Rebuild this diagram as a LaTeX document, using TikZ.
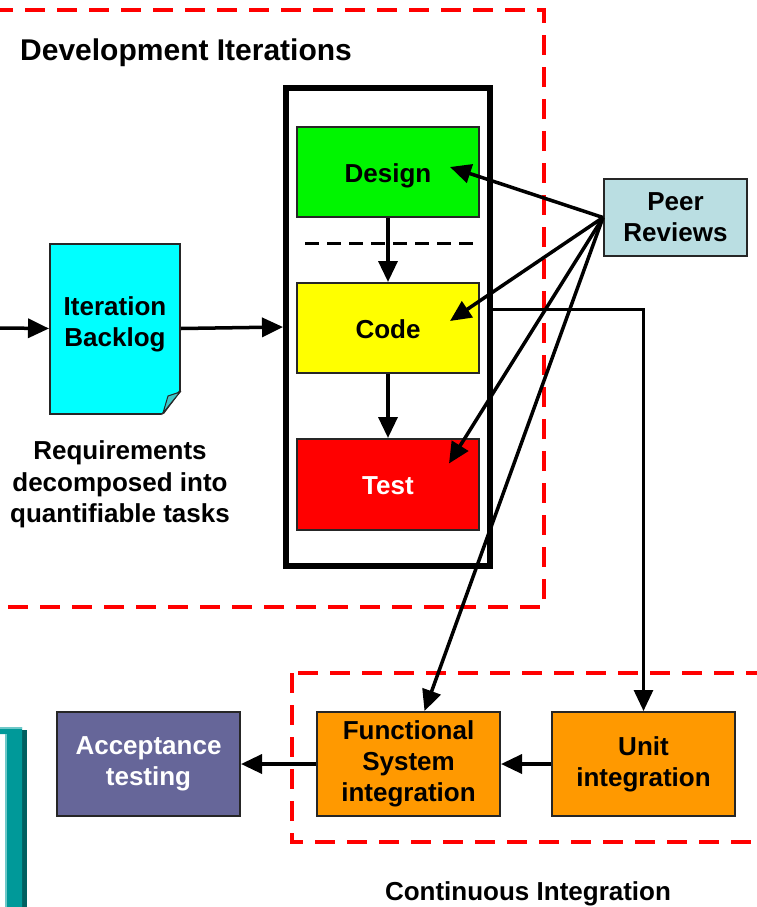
\documentclass[tikz,border=0pt]{standalone}
\usepackage{fontspec}
\setmainfont{Liberation Sans}
\definecolor{dvgreen}{RGB}{0,245,0}
\definecolor{dvyellow}{RGB}{255,255,0}
\definecolor{dvred}{RGB}{255,0,0}
\definecolor{dvcyan}{RGB}{0,255,255}
\definecolor{dvfold}{RGB}{60,200,200}
\definecolor{dvpeer}{RGB}{186,222,226}
\definecolor{ciorange}{RGB}{255,153,0}
\definecolor{cipurple}{RGB}{102,102,153}
\definecolor{dvteal}{RGB}{0,153,153}
\definecolor{dvtealdark}{RGB}{0,96,96}
\definecolor{dvteallight}{RGB}{110,200,200}
\usetikzlibrary{arrows.meta,positioning}

\begin{document}
\begin{tikzpicture}[x=1pt, y=-1pt,
    phasebox/.style={rectangle, draw=black!85, line width=2pt,
                     minimum width=182pt, minimum height=90pt, inner sep=0pt,
                     align=center, font=\fontsize{26}{31}\selectfont\bfseries},
    stagebox/.style={phasebox, text height=20pt, text depth=0pt},
    cibox/.style={phasebox, minimum width=183pt, minimum height=104pt},
    noteline/.style={align=center, inner sep=0pt,
                     font=\fontsize{26}{31.5}\selectfont\bfseries},
    redframe/.style={draw=red, line width=4.5pt, dash pattern=on 20pt off 12pt},
    flow/.style={->, line width=3.5pt},
    >={Triangle[length=21pt,width=19pt]}
  ]
    \useasboundingbox (0,0) rectangle (757,907);

    % dashed frames
    \draw[redframe] (-2.8,10) rectangle (544,607);
    \draw[redframe] (292,673) rectangle (759.8,842);

    % bit of the slide frame, bottom left
    \fill[dvtealdark] (22,730) rectangle (26.5,907);
    \fill[dvteal] (0,727) -- (22,727) -- (22,907) -- (5,907) -- (5,734) -- (0,734) -- cycle;
    \fill[dvteallight] (0,727) rectangle (22,729);
    \fill[dvteallight] (5,734) rectangle (7,907);

    \node[font=\fontsize{30}{36}\selectfont\bfseries, anchor=base west, inner sep=0pt]
      (devtitle) at (20,61) {Development Iterations};

    % iteration backlog (page with folded corner)
    \coordinate (entry) at (0,328);
    \node[phasebox, fill=dvcyan, minimum width=130pt, minimum height=170pt] (backlog) at (115,328.5) {};
    \fill[white] (182,390.5) -- (182,415) -- (161.5,415) -- cycle;
    \draw[line width=2pt, black!85] (180,391) -- (163,413.5);
    \filldraw[fill=dvfold, draw=black!85, line width=1pt] (163,413) -- (180,392) -- (168,396) -- cycle;
    \node[noteline, font=\fontsize{26}{31}\selectfont\bfseries] (backlogtext) at (115,324) {Iteration\\Backlog};

    \node[noteline] (reqnote) at (120,484.5) {Requirements\\decomposed into\\quantifiable tasks};

    % the iteration itself
    \node[draw, line width=6pt, minimum width=204pt, minimum height=478pt] (iterbox) at (388,327) {};
    \node[stagebox, fill=dvgreen] (design) at (388,172) {Design};
    \node[stagebox, fill=dvyellow] (code) at (388,328) {Code};
    \node[stagebox, fill=dvred, text=white, minimum height=91pt] (test) at (388,484.5) {Test};
    \draw[line width=3pt, dash pattern=on 14pt off 8pt] (305,243) -- (475,243);

    \draw[flow] (entry) -- (backlog.west);
    \draw[flow] (backlog.east) -- (iterbox.west);
    \draw[flow] (design.south) -- (code.north);
    \draw[flow] (code.south) -- (test.north);

    % continuous integration
    \node[cibox, fill=cipurple, text=white] (accept) at (148.5,764) {Acceptance\\testing};
    \node[cibox, fill=ciorange] (func) at (408.5,764) {Functional\\System\\integration};
    \node[cibox, fill=ciorange] (unit) at (643.5,764) {Unit\\integration};
    \node[noteline] (cititle) at (528,894) {Continuous Integration};

    \draw[->, line width=3pt] ([xshift=8pt, yshift=19pt]code.east) -| (unit.north);
    \draw[flow] (unit.west) -- (func.east);
    \draw[flow] (func.west) -- (accept.east);

    % peer reviews
    \node[phasebox, fill=dvpeer, minimum width=143pt, minimum height=77pt] (peer) at (675.5,217.5) {Peer\\Reviews};
    \foreach \tgt/\dx/\dy in {design/-30/5, code/-30/7, test/-31/21}{
      \draw[flow] (peer.west) -- ([xshift=\dx pt, yshift=\dy pt]\tgt.east);
    }
    \draw[flow] (peer.west) -- ([xshift=16pt]func.north);
\end{tikzpicture}
\end{document}
